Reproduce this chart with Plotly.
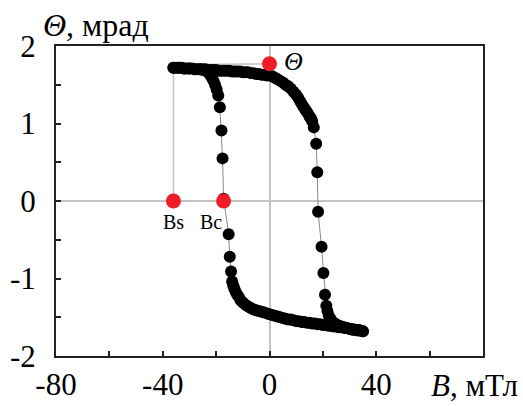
import plotly.graph_objects as go

# Ascending field sweep (B in mT, Theta in mrad)
up_b = [-36, -35, -34, -33, -32, -31, -30, -29, -28, -27, -26, -25, -24, -23, -22, -21, -20,
        -19, -18, -17, -16, -15, -14, -13, -12, -11, -10, -9, -8, -7, -6, -5, -4, -3, -2, -1,
        0, 1, 2, 3, 4, 5, 6, 7, 8, 9, 10, 10.8, 11.6, 12.3, 13, 13.6, 14.2, 14.7, 15.2, 15.6,
        16.0, 16.6, 17.5, 17.9, 18.2, 19.5, 20.2, 20.8, 21.3, 21.7, 22.2, 23, 24, 25, 26, 27,
        28, 29, 30, 31, 32, 33, 34, 35]
up_theta = [1.72, 1.72, 1.72, 1.72, 1.71, 1.71, 1.71, 1.71, 1.70, 1.70, 1.70, 1.70, 1.70, 1.69,
            1.69, 1.69, 1.69, 1.68, 1.68, 1.68, 1.68, 1.68, 1.67, 1.67, 1.67, 1.67, 1.66, 1.66,
            1.66, 1.65, 1.65, 1.64, 1.64, 1.63, 1.63, 1.62, 1.62, 1.61, 1.59, 1.57, 1.55, 1.53,
            1.50, 1.48, 1.45, 1.41, 1.37, 1.33, 1.28, 1.24, 1.20, 1.17, 1.14, 1.11, 1.08, 1.06,
            1.03, 0.95, 0.74, 0.37, -0.14, -0.59, -0.93, -1.21, -1.35, -1.42, -1.48, -1.53,
            -1.57, -1.59, -1.61, -1.62, -1.63, -1.64, -1.65, -1.66, -1.66, -1.67, -1.67, -1.68]

# Descending field sweep
down_b = [35, 34, 33, 32, 31, 30, 29, 28, 27, 26, 25, 24, 23, 22, 21, 20, 19, 18, 17, 16, 15,
          14, 13, 12, 11, 10, 9, 8, 7, 6, 5, 4, 3, 2, 1, 0, -1, -2, -3, -4, -5, -6, -7, -8, -9,
          -10, -10.8, -11.5, -12.1, -12.7, -13.2, -13.6, -14.0, -14.4, -14.9, -15.3, -17.2,
          -17.6, -18.0, -18.6, -19.2, -19.8, -20.4, -21.0, -21.6, -22.3, -23, -24, -25, -26,
          -28, -30, -32, -34, -36]
down_theta = [-1.68, -1.67, -1.66, -1.66, -1.65, -1.65, -1.64, -1.64, -1.63, -1.63, -1.62,
              -1.62, -1.61, -1.61, -1.60, -1.60, -1.59, -1.59, -1.58, -1.58, -1.57, -1.57,
              -1.56, -1.56, -1.55, -1.55, -1.54, -1.53, -1.53, -1.52, -1.51, -1.50, -1.49,
              -1.48, -1.47, -1.46, -1.45, -1.44, -1.43, -1.42, -1.41, -1.40, -1.38, -1.36,
              -1.34, -1.31, -1.28, -1.24, -1.21, -1.17, -1.13, -1.09, -1.04, -0.91, -0.72,
              -0.43, 0.03, 0.55, 0.91, 1.21, 1.36, 1.44, 1.50, 1.55, 1.59, 1.63, 1.66, 1.68,
              1.69, 1.70, 1.70, 1.71, 1.71, 1.72, 1.72]

# Marked points
mark_b = [-36, -17.2, 0]
mark_theta = [0, 0, 1.77]
mark_labels = ["Bs", "Bc", "Θ"]

# Guide line Bs -> top -> Theta
guide_b = [-36, -36, 0]
guide_theta = [0, 1.76, 1.77]

x_tickvals = [-80, -60, -40, -20, 0, 20, 40, 60, 80]
x_ticktext = ["-80", "", "-40", "", "0", "", "40", "", ""]
y_tickvals = [-2, -1.5, -1, -0.5, 0, 0.5, 1, 1.5, 2]
y_ticktext = ["-2", "", "-1", "", "0", "", "1", "", "2"]

SERIF = "Liberation Serif, Times New Roman, serif"
GRAY = "#c4c4c4"

fig = go.Figure()
fig.add_trace(go.Scatter(x=guide_b, y=guide_theta, mode="lines",
                         line=dict(color=GRAY, width=1.5), hoverinfo="skip"))
for xb, yt in [(up_b, up_theta), (down_b, down_theta)]:
    fig.add_trace(go.Scatter(x=xb, y=yt, mode="lines+markers",
                             line=dict(color="#8a8a8a", width=1),
                             marker=dict(color="black", size=12)))
fig.add_trace(go.Scatter(x=mark_b, y=mark_theta, mode="markers",
                         marker=dict(color="#ee1c25", size=15)))

# labels of marked points
fig.add_annotation(x=mark_b[0], y=mark_theta[0], text=mark_labels[0], showarrow=False,
                   yshift=-21, font=dict(family=SERIF, size=20, color="black"))
fig.add_annotation(x=mark_b[1], y=mark_theta[1], text=mark_labels[1], showarrow=False,
                   xshift=-13, yshift=-21, font=dict(family=SERIF, size=20, color="black"))
fig.add_annotation(x=mark_b[2], y=mark_theta[2], text="<i>" + mark_labels[2] + "</i>",
                   showarrow=False, xshift=24, yshift=2,
                   font=dict(family=SERIF, size=26, color="black"))

# axis titles
fig.add_annotation(xref="paper", yref="paper", x=-0.035, y=1.0, xanchor="left",
                   yanchor="bottom", text="<i>Θ</i>, мрад", showarrow=False, yshift=1,
                   font=dict(family=SERIF, size=32, color="black"))
fig.add_annotation(xref="paper", yref="paper", x=1.087, y=0, xanchor="right",
                   yanchor="top", text="<i>B</i>, мТл", showarrow=False, yshift=-10,
                   font=dict(family=SERIF, size=31, color="black"))

axis_common = dict(showgrid=False, showline=True, linecolor="#222", linewidth=2,
                   mirror=True, ticks="inside", ticklen=5, tickwidth=2, tickcolor="#222",
                   zeroline=True, zerolinecolor=GRAY, zerolinewidth=2, automargin=False,
                   tickfont=dict(family=SERIF, size=31, color="black"))

fig.update_xaxes(range=[-80, 80], tickmode="array", tickvals=x_tickvals,
                 ticktext=x_ticktext, **axis_common)
fig.update_yaxes(range=[-2, 2], tickmode="array", tickvals=y_tickvals,
                 ticktext=y_ticktext, ticklabelstandoff=12, **axis_common)

fig.update_layout(width=523, height=406, showlegend=False,
                  margin=dict(l=56, r=40, t=46, b=50),
                  paper_bgcolor="white", plot_bgcolor="white")

fig.write_html("out.html", config={"displayModeBar": False},
               post_script="document.body.style.margin='0';document.body.style.overflow='hidden';")
